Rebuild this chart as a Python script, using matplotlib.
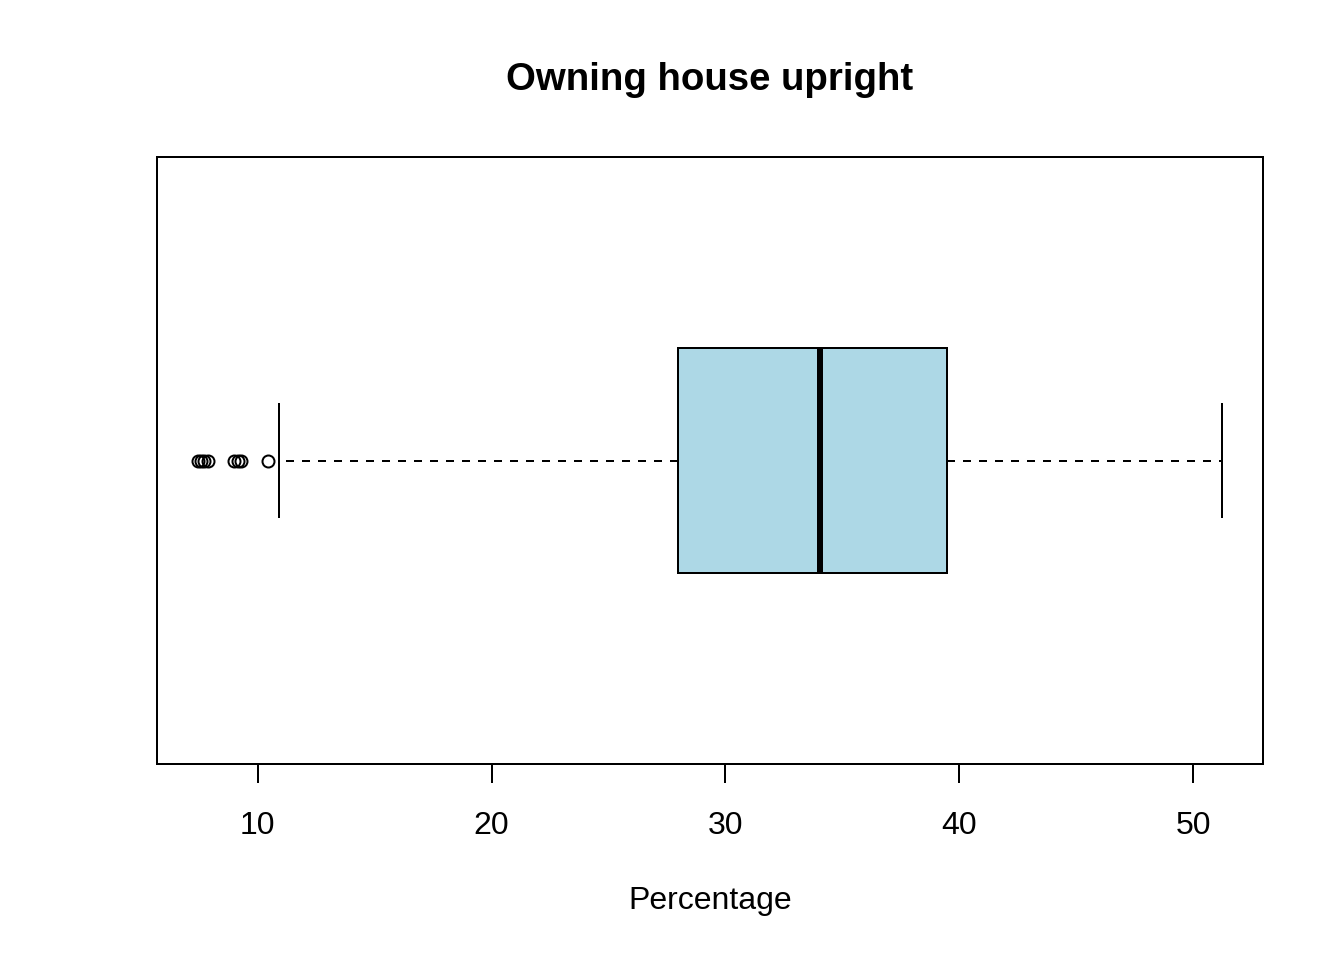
import matplotlib
matplotlib.use("Agg")
import matplotlib.pyplot as plt

plt.rcParams['font.family'] = ['Liberation Sans', 'DejaVu Sans']

title = "Owning house upright"
xlabel = "Percentage"
q1, median, q3 = 27.95, 34.06, 39.49
whisker_low, whisker_high = 10.92, 51.24
outliers = [7.44, 7.56, 7.69, 7.86, 8.97, 9.15, 9.27, 10.45]
xticks = [10, 20, 30, 40, 50]

fig = plt.figure(figsize=(7, 5), dpi=192)
ax = fig.add_axes([157/1344, 1-764/960, (1263-157)/1344, (764-157)/960])

stats = [dict(med=median, q1=q1, q3=q3, whislo=whisker_low, whishi=whisker_high,
              fliers=outliers)]
ax.bxp(stats, positions=[1], widths=0.37, vert=False, patch_artist=True,
       capwidths=[0.185], showfliers=True,
       boxprops=dict(facecolor='#ADD8E6', edgecolor='black', linewidth=0.75),
       medianprops=dict(color='black', linewidth=2.25, solid_capstyle='butt'),
       whiskerprops=dict(color='black', linewidth=0.75, linestyle=(0, (4, 4))),
       capprops=dict(color='black', linewidth=0.75),
       flierprops=dict(marker='o', markerfacecolor='none', markeredgecolor='black',
                       markersize=4.5, markeredgewidth=0.75))

dmin = min(outliers + [whisker_low])
dmax = whisker_high
r = dmax - dmin
ax.set_xlim(dmin - 0.04*r, dmax + 0.04*r)
ax.set_ylim(0.5, 1.5)
ax.set_yticks([])
ax.set_xticks(xticks)
ax.set_xticklabels([str(t) for t in xticks])
ax.tick_params(axis='x', length=7.1, width=0.75, pad=10.5, labelsize=12)
for s in ax.spines.values():
    s.set_linewidth(0.75)
fig.text((157+1263)/2/1344, 1-80/960, title, ha='center', va='center',
         fontsize=14.4, fontweight='bold')
fig.text((157+1263)/2/1344, 1-901/960, xlabel, ha='center', va='center', fontsize=12)
fig.savefig("out.png", dpi=192)
